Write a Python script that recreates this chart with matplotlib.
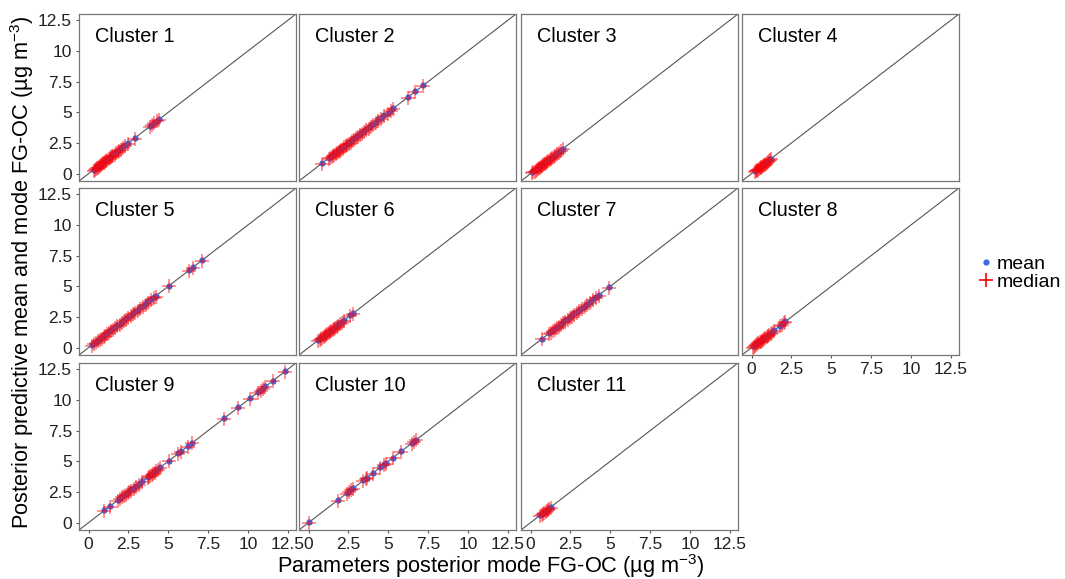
import matplotlib
matplotlib.use("Agg")
import matplotlib.pyplot as plt
from matplotlib.lines import Line2D

plt.rcParams["font.family"] = ["Liberation Sans", "DejaVu Sans"]
plt.rcParams["mathtext.fontset"] = "custom"
plt.rcParams["mathtext.rm"] = "Liberation Sans"
plt.rcParams["mathtext.it"] = "Liberation Sans"

# posterior mode (x), predictive mean and median (y) per cluster
c1_mode = [0.31, 0.38, 0.44, 0.52, 0.57, 0.63, 0.71, 0.78, 0.84, 0.91, 0.97, 1.04, 1.12, 1.18, 1.26, 1.33, 1.41,
           1.49, 1.56, 1.64, 1.73, 1.82, 1.93, 2.05, 2.18, 2.31, 2.47, 2.92, 3.84, 3.97, 4.12, 4.28, 4.41]
c1_mean = [0.33, 0.40, 0.47, 0.55, 0.60, 0.66, 0.74, 0.80, 0.88, 0.94, 1.00, 1.07, 1.15, 1.21, 1.29, 1.36, 1.44,
           1.52, 1.59, 1.67, 1.76, 1.85, 1.96, 2.08, 2.21, 2.34, 2.50, 2.90, 3.86, 3.99, 4.15, 4.30, 4.43]
c1_median = [0.22, 0.30, 0.36, 0.44, 0.49, 0.55, 0.63, 0.69, 0.76, 0.83, 0.89, 0.96, 1.03, 1.09, 1.17, 1.24, 1.32,
             1.40, 1.47, 1.55, 1.64, 1.73, 1.84, 1.96, 2.09, 2.23, 2.40, 2.86, 3.80, 3.94, 4.09, 4.25, 4.39]

c2_mode = [0.82, 1.28, 1.36, 1.45, 1.53, 1.62, 1.70, 1.79, 1.88, 1.96, 2.05, 2.14, 2.23, 2.33, 2.42, 2.52, 2.63, 2.74, 2.86,
           2.98, 3.10, 3.22, 3.35, 3.48, 3.62, 3.76, 3.90, 4.05, 4.22, 4.38, 4.55, 4.75, 4.95, 5.15, 5.30, 6.20, 6.70, 7.20]
c2_mean = [0.84, 1.31, 1.38, 1.48, 1.55, 1.65, 1.72, 1.82, 1.90, 1.99, 2.07, 2.17, 2.25, 2.36, 2.44, 2.55, 2.65, 2.77, 2.88,
           3.01, 3.12, 3.25, 3.37, 3.51, 3.64, 3.79, 3.92, 4.08, 4.24, 4.41, 4.57, 4.78, 4.97, 5.18, 5.32, 6.22, 6.72, 7.23]
c2_median = [0.78, 1.18, 1.26, 1.35, 1.43, 1.52, 1.60, 1.69, 1.78, 1.86, 1.95, 2.04, 2.13, 2.23, 2.32, 2.42, 2.53, 2.64, 2.76,
             2.88, 3.00, 3.12, 3.25, 3.38, 3.52, 3.66, 3.80, 3.95, 4.12, 4.28, 4.46, 4.66, 4.88, 5.08, 5.24, 6.15, 6.66, 7.16]

c3_mode = [0.12, 0.18, 0.25, 0.31, 0.38, 0.44, 0.50, 0.57, 0.63, 0.70, 0.76, 0.83, 0.90, 0.97, 1.04, 1.11, 1.19, 1.27,
           1.35, 1.44, 1.53, 1.64, 1.78, 1.92, 2.02]
c3_mean = [0.14, 0.20, 0.27, 0.34, 0.40, 0.47, 0.52, 0.60, 0.66, 0.72, 0.79, 0.86, 0.92, 1.00, 1.06, 1.14, 1.21, 1.30,
           1.37, 1.47, 1.55, 1.67, 1.80, 1.94, 2.04]
c3_median = [0.04, 0.10, 0.17, 0.23, 0.30, 0.36, 0.42, 0.49, 0.55, 0.62, 0.68, 0.75, 0.82, 0.89, 0.96, 1.03, 1.11, 1.19,
             1.27, 1.36, 1.45, 1.56, 1.71, 1.86, 1.97]

c4_mode = [0.21, 0.26, 0.31, 0.36, 0.41, 0.46, 0.51, 0.56, 0.61, 0.66, 0.71, 0.76, 0.82, 0.88, 0.94, 1.00, 1.07, 1.14, 1.21]
c4_mean = [0.23, 0.28, 0.33, 0.39, 0.43, 0.49, 0.53, 0.59, 0.63, 0.69, 0.73, 0.79, 0.84, 0.91, 0.96, 1.03, 1.09, 1.17, 1.23]
c4_median = [0.13, 0.18, 0.23, 0.28, 0.33, 0.38, 0.43, 0.48, 0.53, 0.58, 0.63, 0.68, 0.74, 0.80, 0.87, 0.93, 1.00, 1.08, 1.16]

c5_mode = [0.22, 0.34, 0.46, 0.58, 0.70, 0.82, 0.94, 1.06, 1.18, 1.30, 1.42, 1.55, 1.68, 1.81, 1.94, 2.07, 2.21, 2.35,
           2.49, 2.63, 2.78, 2.93, 3.08, 3.24, 3.40, 3.57, 3.74, 3.92, 4.10, 4.22, 5.02, 6.28, 6.55, 7.12]
c5_mean = [0.24, 0.37, 0.48, 0.61, 0.72, 0.85, 0.96, 1.09, 1.20, 1.33, 1.44, 1.58, 1.70, 1.84, 1.96, 2.10, 2.23, 2.38,
           2.51, 2.66, 2.80, 2.96, 3.10, 3.27, 3.42, 3.60, 3.76, 3.95, 4.12, 4.24, 5.04, 6.30, 6.57, 7.14]
c5_median = [0.14, 0.26, 0.38, 0.50, 0.62, 0.74, 0.86, 0.98, 1.10, 1.22, 1.34, 1.47, 1.60, 1.73, 1.86, 1.99, 2.13, 2.27,
             2.41, 2.55, 2.70, 2.85, 3.00, 3.16, 3.32, 3.49, 3.66, 3.84, 4.03, 4.16, 4.98, 6.24, 6.52, 7.09]

c6_mode = [0.62, 0.70, 0.78, 0.86, 0.94, 1.02, 1.10, 1.18, 1.26, 1.34, 1.42, 1.50, 1.58, 1.67, 1.76, 1.86, 1.97, 2.09,
           2.20, 2.62, 2.81]
c6_mean = [0.64, 0.73, 0.80, 0.89, 0.96, 1.05, 1.12, 1.21, 1.28, 1.37, 1.44, 1.53, 1.60, 1.70, 1.78, 1.89, 1.99, 2.12,
           2.22, 2.64, 2.83]
c6_median = [0.55, 0.62, 0.70, 0.78, 0.86, 0.94, 1.02, 1.10, 1.18, 1.26, 1.34, 1.42, 1.50, 1.59, 1.68, 1.78, 1.90, 2.02,
             2.14, 2.58, 2.77]

c7_mode = [0.72, 1.18, 1.30, 1.42, 1.55, 1.66, 1.78, 1.92, 2.05, 2.18, 2.32, 2.46, 2.60, 2.75, 2.90, 3.05, 3.22, 3.38,
           3.55, 3.72, 3.90, 4.08, 4.26, 4.92]
c7_mean = [0.74, 1.21, 1.32, 1.45, 1.57, 1.69, 1.80, 1.95, 2.07, 2.21, 2.34, 2.49, 2.62, 2.78, 2.92, 3.08, 3.24, 3.41,
           3.57, 3.75, 3.92, 4.11, 4.28, 4.94]
c7_median = [0.68, 1.10, 1.22, 1.35, 1.47, 1.58, 1.71, 1.85, 1.98, 2.11, 2.25, 2.39, 2.53, 2.69, 2.84, 2.99, 3.16, 3.33,
             3.50, 3.67, 3.86, 4.04, 4.22, 4.89]

c8_mode = [0.08, 0.15, 0.22, 0.29, 0.36, 0.43, 0.50, 0.57, 0.64, 0.71, 0.78, 0.86, 0.94, 1.02, 1.10, 1.19, 1.28, 1.38,
           1.78, 1.92, 2.05, 2.12]
c8_mean = [0.10, 0.17, 0.25, 0.31, 0.39, 0.45, 0.53, 0.59, 0.67, 0.73, 0.81, 0.88, 0.97, 1.04, 1.13, 1.21, 1.31, 1.40,
           1.80, 1.94, 2.07, 2.14]
c8_median = [0.00, 0.07, 0.14, 0.21, 0.28, 0.35, 0.42, 0.49, 0.56, 0.63, 0.70, 0.78, 0.86, 0.94, 1.03, 1.12, 1.21, 1.32,
             1.74, 1.88, 2.01, 2.09]

c9_mode = [0.98, 1.32, 1.82, 1.98, 2.12, 2.22, 2.33, 2.45, 2.56, 2.68, 2.82, 2.98, 3.15, 3.35, 3.72, 3.80, 3.88, 3.96,
           4.05, 4.14, 4.24, 4.35, 4.48, 5.02, 5.62, 5.78, 6.20, 6.50, 8.50, 9.38, 10.12, 10.62, 10.78, 10.95, 11.08,
           11.55, 12.30]
c9_mean = [1.00, 1.34, 1.84, 2.00, 2.14, 2.25, 2.35, 2.48, 2.58, 2.71, 2.84, 3.01, 3.17, 3.38, 3.74, 3.83, 3.90, 3.99,
           4.07, 4.17, 4.26, 4.38, 4.50, 5.04, 5.64, 5.80, 6.22, 6.52, 8.52, 9.40, 10.14, 10.64, 10.80, 10.97, 11.10,
           11.57, 12.32]
c9_median = [0.95, 1.28, 1.76, 1.92, 2.05, 2.15, 2.26, 2.38, 2.49, 2.61, 2.75, 2.92, 3.09, 3.29, 3.64, 3.72, 3.80, 3.88,
             3.97, 4.07, 4.17, 4.28, 4.42, 4.98, 5.58, 5.74, 6.16, 6.46, 8.46, 9.35, 10.08, 10.58, 10.75, 10.92, 11.05,
             11.52, 12.27]

c10_mode = [0.02, 1.82, 2.42, 2.55, 2.68, 2.80, 3.42, 3.58, 3.65, 4.02, 4.48, 4.75, 4.85, 5.28, 5.82, 6.48, 6.62, 6.72]
c10_mean = [0.04, 1.84, 2.44, 2.57, 2.70, 2.82, 3.44, 3.60, 3.67, 4.04, 4.50, 4.77, 4.87, 5.30, 5.84, 6.50, 6.64, 6.74]
c10_median = [0.00, 1.78, 2.37, 2.50, 2.63, 2.75, 3.37, 3.53, 3.60, 3.98, 4.44, 4.70, 4.81, 5.24, 5.78, 6.44, 6.58, 6.69]

c11_mode = [0.62, 0.70, 0.78, 0.86, 0.94, 1.02, 1.10, 1.18, 1.28]
c11_mean = [0.64, 0.72, 0.80, 0.88, 0.96, 1.04, 1.12, 1.20, 1.30]
c11_median = [0.56, 0.64, 0.72, 0.80, 0.88, 0.96, 1.04, 1.12, 1.23]

clusters = ["Cluster 1", "Cluster 2", "Cluster 3", "Cluster 4", "Cluster 5", "Cluster 6",
            "Cluster 7", "Cluster 8", "Cluster 9", "Cluster 10", "Cluster 11"]
modes = [c1_mode, c2_mode, c3_mode, c4_mode, c5_mode, c6_mode, c7_mode, c8_mode, c9_mode, c10_mode, c11_mode]
means = [c1_mean, c2_mean, c3_mean, c4_mean, c5_mean, c6_mean, c7_mean, c8_mean, c9_mean, c10_mean, c11_mean]
medians = [c1_median, c2_median, c3_median, c4_median, c5_median, c6_median, c7_median, c8_median, c9_median,
           c10_median, c11_median]
ticks = [0, 2.5, 5, 7.5, 10, 12.5]
tick_labels = ["0", "2.5", "5", "7.5", "10", "12.5"]

W, H = 1065, 579
fig = plt.figure(figsize=(W / 100, H / 100), dpi=100)
fig.patch.set_facecolor("white")

lim = (-0.6, 13.0)
col_left = [79, 299, 521, 742]
row_top = [14, 188, 363]
pw, ph = 217, 167
blue = "#4169e1"

for i, name in enumerate(clusters):
    r, c = divmod(i, 4)
    x0 = col_left[c]
    y0 = row_top[r]
    ax = fig.add_axes([x0 / W, 1 - (y0 + ph) / H, pw / W, ph / H])
    ax.set_xlim(lim)
    ax.set_ylim(lim)
    ax.plot(lim, lim, color="#555555", lw=0.8, zorder=1)
    ax.plot(modes[i], means[i], "o", color=blue, ms=4.5, mec="none", zorder=2)
    ax.plot(modes[i], medians[i], "+", color="red", ms=9.5, mew=1.2, alpha=0.5, zorder=3)
    ax.text(0.075, 0.83, name, transform=ax.transAxes, fontsize=14.3, color="black")
    for sp in ax.spines.values():
        sp.set_color("#777777")
        sp.set_linewidth(0.9)
    ax.set_xticks(ticks)
    ax.set_yticks(ticks)
    ax.tick_params(length=2, color="#555555", labelsize=12.5, labelcolor="#222222", pad=3)
    if c == 0:
        ax.set_yticklabels(tick_labels)
    else:
        ax.tick_params(axis="y", left=False, labelleft=False)
    if r == 2 or i == 7:
        ax.set_xticklabels(tick_labels)
    else:
        ax.tick_params(axis="x", bottom=False, labelbottom=False)

fig.text(491 / W, 1 - 566 / H, "Parameters posterior mode FG-OC (µg m$^{-3}$)",
         ha="center", va="center", fontsize=15.7)
fig.text(22 / W, 1 - 272 / H, "Posterior predictive mean and mode FG-OC (µg m$^{-3}$)",
         ha="center", va="center", rotation=90, fontsize=15.7)

handles = [Line2D([], [], marker="o", ls="none", color=blue, ms=4.5, mec="none"),
           Line2D([], [], marker="+", ls="none", color="red", ms=10, mew=1.2)]
fig.legend(handles, ["mean", "median"], loc="center left", bbox_to_anchor=(976 / W, 1 - 273 / H),
           frameon=False, fontsize=14, handletextpad=0.05, labelspacing=0.0, handlelength=1.0,
           borderaxespad=0, borderpad=0)

plt.savefig("out.png", dpi=100, facecolor=fig.get_facecolor())
plt.close()
